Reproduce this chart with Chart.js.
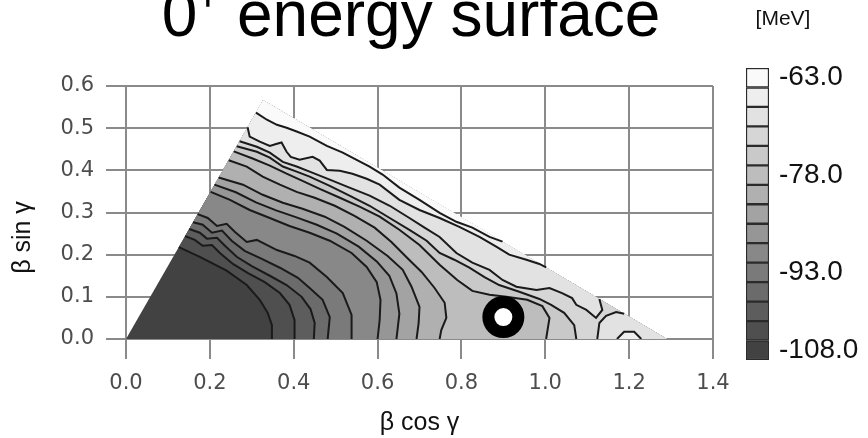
<!DOCTYPE html>
<html><head><meta charset="utf-8">
<script src="https://cdn.jsdelivr.net/npm/chart.js@4/dist/chart.umd.min.js"></script>
<style>
html,body{margin:0;padding:0;background:#fff;width:868px;height:438px;overflow:hidden;position:relative}
#main{position:absolute;left:0;top:-30px}
#bar{position:absolute;left:700px;top:0}
</style></head><body>
<canvas id="main" width="868" height="468"></canvas>
<canvas id="bar" width="166" height="438"></canvas>
<script>
// ---------- data ----------
const titleText = '0\u207A energy surface';
const xTickValues = [0, 0.2, 0.4, 0.6, 0.8, 1.0, 1.2, 1.4];
const yTickValues = [0, 0.1, 0.2, 0.3, 0.4, 0.5, 0.6];
const bandColors = ['#fafafa','#eeeeee','#e2e2e2','#d6d6d6','#c9c9c9','#bdbdbd','#b0b0b0','#a3a3a3','#969696','#888888','#7a7a7a','#6b6b6b','#5d5d5d','#4f4f4f','#424242'];
const bandWidths = [3,3,3,3,3,3,3,3,3,3,3,3,3,3,3];
const colorbarLabels = ['-63.0','','','','','-78.0','','','','','-93.0','','','','-108.0'];
const domainCorners = [[0,0],[1.29,0],[0.327,0.566]];
const minimumPoint = [[0.9,0.052]];

// contour lines [beta cos gamma, beta sin gamma], one array per level (MeV)
const e105 = [[0.126,0.218],[0.176,0.195],[0.240,0.162],[0.288,0.128],[0.319,0.093],[0.338,0.062],[0.348,0.033],[0.348,0]];
const e102 = [[0.141,0.244],[0.164,0.235],[0.183,0.221],[0.205,0.223],[0.224,0.204],[0.255,0.178],[0.290,0.157],[0.331,0.135],[0.367,0.109],[0.390,0.081],[0.402,0.045],[0.402,0]];
const e99 = [[0.151,0.261],[0.176,0.252],[0.193,0.238],[0.217,0.240],[0.236,0.221],[0.264,0.195],[0.300,0.173],[0.343,0.150],[0.383,0.128],[0.419,0.100],[0.440,0.071],[0.450,0.038],[0.448,0]];
const e96 = [[0.160,0.277],[0.183,0.271],[0.205,0.252],[0.229,0.257],[0.252,0.233],[0.283,0.209],[0.324,0.190],[0.367,0.169],[0.410,0.145],[0.438,0.121],[0.469,0.093],[0.486,0.052],[0.481,0]];
const e93 = [[0.171,0.296],[0.195,0.287],[0.217,0.268],[0.240,0.273],[0.260,0.254],[0.288,0.230],[0.312,0.235],[0.360,0.211],[0.402,0.197],[0.438,0.181],[0.479,0.147],[0.517,0.109],[0.538,0.057],[0.538,0]];
const e90 = [[0.202,0.349],[0.248,0.330],[0.295,0.306],[0.343,0.287],[0.390,0.268],[0.438,0.252],[0.486,0.233],[0.538,0.204],[0.574,0.171],[0.598,0.135],[0.607,0.093],[0.605,0.045],[0.600,0]];
const e87 = [[0.211,0.366],[0.262,0.348],[0.310,0.324],[0.358,0.305],[0.405,0.289],[0.455,0.271],[0.503,0.250],[0.555,0.219],[0.598,0.184],[0.628,0.150],[0.645,0.108],[0.652,0.060],[0.648,0.025],[0.645,0]];
const e84 = [[0.221,0.383],[0.279,0.366],[0.326,0.342],[0.374,0.323],[0.421,0.309],[0.474,0.290],[0.521,0.266],[0.574,0.233],[0.624,0.197],[0.660,0.164],[0.681,0.124],[0.700,0.076],[0.698,0.038],[0.693,0]];
const e81 = [[0.245,0.424],[0.288,0.409],[0.326,0.385],[0.367,0.366],[0.407,0.349],[0.450,0.335],[0.498,0.316],[0.545,0.292],[0.593,0.264],[0.633,0.230],[0.671,0.192],[0.705,0.159],[0.736,0.121],[0.760,0.086],[0.764,0.050],[0.752,0.021],[0.748,0]];
const e78 = [[0.257,0.445],[0.302,0.428],[0.343,0.411],[0.383,0.392],[0.421,0.375],[0.462,0.356],[0.510,0.335],[0.557,0.314],[0.605,0.290],[0.652,0.259],[0.700,0.223],[0.748,0.176],[0.790,0.140],[0.826,0.114],[0.867,0.105],[0.907,0.100],[0.957,0.093],[0.993,0.078],[1.010,0.050],[1.002,0]];
const e75 = [[0.264,0.457],[0.312,0.444],[0.343,0.430],[0.374,0.409],[0.407,0.397],[0.438,0.385],[0.486,0.363],[0.533,0.340],[0.581,0.316],[0.629,0.287],[0.676,0.259],[0.717,0.233],[0.748,0.204],[0.783,0.188],[0.819,0.169],[0.855,0.147],[0.890,0.128],[0.938,0.112],[0.986,0.095],[1.014,0.081],[1.045,0.062],[1.069,0.033],[1.074,0]];
const e72a = [[0.271,0.469],[0.312,0.456],[0.343,0.442],[0.374,0.420],[0.407,0.409],[0.438,0.397],[0.486,0.378],[0.533,0.359],[0.581,0.340],[0.629,0.316],[0.676,0.287],[0.712,0.264],[0.748,0.242],[0.788,0.204],[0.826,0.181],[0.867,0.164],[0.898,0.140],[0.931,0.124],[0.979,0.116],[1.010,0.121],[1.040,0.109],[1.064,0.097],[1.074,0.081],[1.098,0.069],[1.121,0.050],[1.136,0.069],[1.129,0.095]];
const e72b = [[1.188,0.060],[1.169,0.064],[1.145,0.055],[1.129,0.038],[1.124,0]];
const e69a = [[0.290,0.502],[0.295,0.480],[0.319,0.468],[0.343,0.458],[0.360,0.463],[0.371,0.466],[0.383,0.444],[0.393,0.432],[0.414,0.425],[0.445,0.432],[0.462,0.423],[0.479,0.401],[0.510,0.399],[0.540,0.392],[0.574,0.380],[0.605,0.366],[0.652,0.330],[0.700,0.306],[0.748,0.287],[0.795,0.266],[0.843,0.242],[0.883,0.219],[0.914,0.200],[0.955,0.188],[0.986,0.178],[1.002,0.170]];
const e69b = [[1.171,0],[1.188,0.017],[1.212,0.017],[1.229,0]];
const e66 = [[0.310,0.537],[0.336,0.520],[0.360,0.508],[0.383,0.501],[0.407,0.492],[0.438,0.480],[0.479,0.458],[0.517,0.442],[0.550,0.425],[0.581,0.409],[0.612,0.390],[0.652,0.359],[0.700,0.330],[0.748,0.299],[0.788,0.278],[0.826,0.264],[0.867,0.242],[0.898,0.231]];

const contourLevels = [-105,-102,-99,-96,-93,-90,-87,-84,-81,-78,-75,-72,-72,-69,-69,-66];
const contourLines = [e105,e102,e99,e96,e93,e90,e87,e84,e81,e78,e75,e72a,e72b,e69a,e69b,e66];
const contourClosures = ['BA','BA','BA','BA','BA','BA','BA','BA','BA','BA','BA','A','B','A','loop','A'];

// ---------- build ----------
const toXY = pts => pts.map(p => ({x: p[0], y: p[1]}));
const B = domainCorners[1], A = domainCorners[2];
const colorFor = L => bandColors[(-63 - L) / 3 - 1];
const clear = 'rgba(0,0,0,0)';

const datasets = [];
datasets.push({data: toXY(domainCorners), fill: 'shape', backgroundColor: bandColors[14], borderColor: clear, borderWidth: 1, pointRadius: 0, order: 1000});
contourLines.forEach((pts, i) => {
  const c = contourClosures[i];
  const closing = c === 'BA' ? [B, A] : c === 'A' ? [A] : c === 'B' ? [B] : [];
  datasets.push({data: toXY(pts.concat(closing)), fill: 'shape', backgroundColor: colorFor(contourLevels[i]), borderColor: clear, borderWidth: 1, pointRadius: 0, order: 900 - i});
});
contourLines.forEach(pts => {
  datasets.push({data: toXY(pts), fill: false, borderColor: '#1a1a1a', borderWidth: 2, pointRadius: 0, order: 10});
});
datasets.push({data: toXY(minimumPoint), showLine: false, pointRadius: 15, pointBorderWidth: 12, pointBackgroundColor: '#ffffff', pointBorderColor: '#000000', order: 0});

const gridColor = '#8a8a8a';
const tickFont = {family: 'DejaVu Sans', size: 21};
const axisTitleFont = {family: 'Liberation Sans', size: 25};

new Chart(document.getElementById('main'), {
  type: 'line',
  data: {datasets},
  options: {
    responsive: false, animation: false, events: [],
    elements: {line: {tension: 0}},
    layout: {padding: {left: 0, right: 46, top: 0, bottom: 0}},
    plugins: {
      legend: {display: false}, tooltip: {enabled: false},
      title: {display: true, text: titleText, color: '#000', font: {family: 'Liberation Sans', size: 64, weight: 'normal'}, padding: {top: 10, bottom: 29.2}}
    },
    scales: {
      x: {
        type: 'linear', min: 0, max: 1.4,
        afterBuildTicks: s => { s.ticks = xTickValues.map(v => ({value: v})); },
        afterFit: s => { s.height = 99; },
        grid: {color: gridColor, lineWidth: 2, tickLength: 20, drawTicks: true},
        border: {color: gridColor, width: 2},
        ticks: {font: tickFont, color: '#4d4d4d', padding: 12, maxRotation: 0, autoSkip: false, callback: v => Number(v).toFixed(1)},
        title: {display: true, text: 'β cos γ', color: '#111', font: axisTitleFont, padding: {top: 0, bottom: 0}}
      },
      y: {
        type: 'linear', min: 0, max: 0.6,
        afterBuildTicks: s => { s.ticks = yTickValues.map(v => ({value: v})); },
        afterFit: s => { s.width = 126; },
        grid: {color: gridColor, lineWidth: 2, tickLength: 20, drawTicks: true},
        border: {color: gridColor, width: 2},
        ticks: {font: tickFont, color: '#4d4d4d', padding: 12, autoSkip: false, callback: v => Number(v).toFixed(1)},
        title: {display: true, text: 'β sin γ\u2003\u2003', color: '#111', font: axisTitleFont, padding: {top: 8, bottom: 0}}
      },
      yR: {
        position: 'right', display: true,
        grid: {display: false}, border: {display: false}, ticks: {display: false},
        afterFit: s => { s.width = 109; }
      }
    }
  }
});

new Chart(document.getElementById('bar'), {
  type: 'bar',
  data: {labels: colorbarLabels, datasets: [{data: bandWidths, backgroundColor: bandColors, borderColor: '#2b2b2b', borderWidth: 1.5, borderSkipped: false, barPercentage: 1, categoryPercentage: 1}]},
  options: {
    indexAxis: 'y', responsive: false, animation: false, events: [],
    layout: {padding: {left: 0, right: 0, top: 0, bottom: 78}},
    plugins: {
      legend: {display: false}, tooltip: {enabled: false},
      title: {display: true, text: '[MeV]', color: '#111', font: {family: 'Liberation Sans', size: 21, weight: 'normal'}, padding: {top: 7, bottom: 35.8}}
    },
    scales: {
      x: {display: false, min: 0, max: 3},
      y: {position: 'right', grid: {display: false}, border: {display: false},
          ticks: {autoSkip: false, padding: 2, color: '#111', font: {family: 'Liberation Sans', size: 28}},
          afterFit: s => { s.width = 97; }},
      yPad: {type: 'linear', position: 'left', display: true,
          grid: {display: false}, border: {display: false}, ticks: {display: false},
          afterFit: s => { s.width = 46; }}
    }
  }
});
</script>
</body></html>
